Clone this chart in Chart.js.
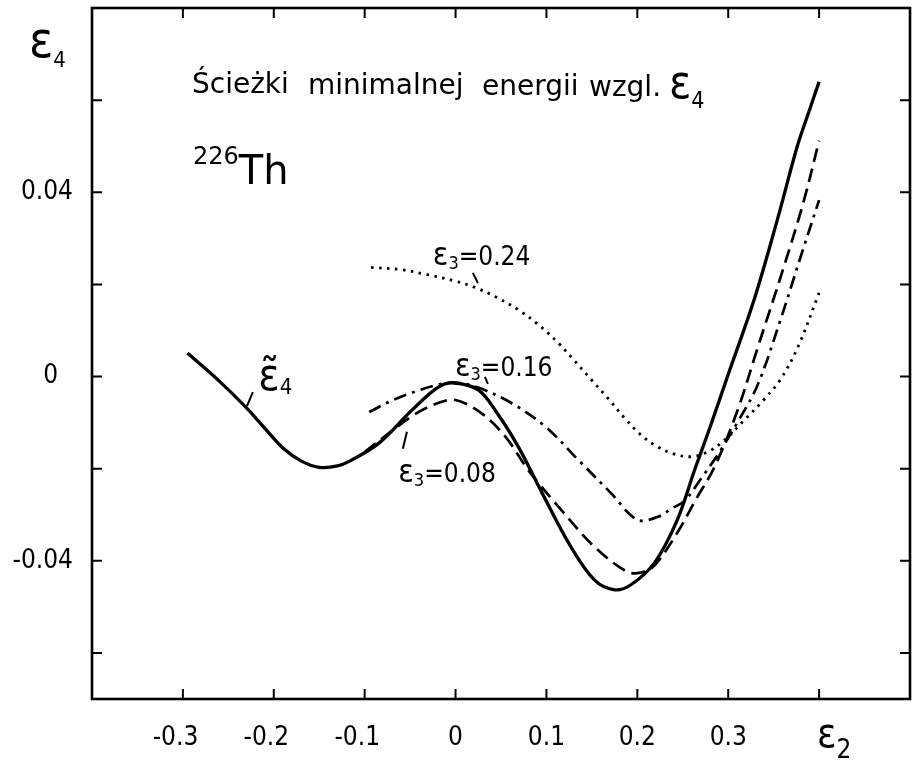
<!DOCTYPE html>
<html>
<head>
<meta charset="utf-8">
<script src="https://cdn.jsdelivr.net/npm/chart.js@4/dist/chart.umd.min.js"></script>
<style>
  html, body { margin: 0; padding: 0; background: #fff; }
</style>
</head>
<body>
<canvas id="myChart" width="912" height="760"></canvas>
<script>
// minimum energy paths in eps4 for 226Th, one curve per eps3 value
let solidE2 = [-0.295, -0.26, -0.23, -0.21, -0.19, -0.17, -0.15, -0.13, -0.114, -0.084, -0.048, -0.019, -0.002, 0.025, 0.047, 0.07, 0.095, 0.127, 0.153, 0.175, 0.193, 0.219, 0.244, 0.263, 0.28, 0.299, 0.329, 0.354, 0.376, 0.39, 0.40];
let solidE4 = [0.0051, -0.0010, -0.0068, -0.0112, -0.0155, -0.0183, -0.0197, -0.0194, -0.0181, -0.0144, -0.0073, -0.0023, -0.0014, -0.0029, -0.0083, -0.0156, -0.0252, -0.0370, -0.0442, -0.0463, -0.0452, -0.0404, -0.0311, -0.0203, -0.0110, -0.0001, 0.0170, 0.0340, 0.0500, 0.0582, 0.0640];

let e308E2 = [-0.10, -0.07, -0.045, -0.02, 0.0, 0.028, 0.055, 0.08, 0.116, 0.153, 0.189, 0.205, 0.219, 0.244, 0.265, 0.285, 0.31, 0.332, 0.361, 0.383, 0.40];
let e308E4 = [-0.0164, -0.0118, -0.0082, -0.0058, -0.0051, -0.0079, -0.0131, -0.0203, -0.0289, -0.0370, -0.0424, -0.0425, -0.0410, -0.0339, -0.0265, -0.0196, -0.0075, 0.0060, 0.0237, 0.0380, 0.0512];

let e316E2 = [-0.095, -0.07, -0.045, -0.02, 0.0, 0.025, 0.061, 0.099, 0.135, 0.171, 0.200, 0.222, 0.24, 0.252, 0.27, 0.29, 0.31, 0.332, 0.357, 0.38, 0.40];
let e316E4 = [-0.0077, -0.0052, -0.0033, -0.0018, -0.0013, -0.0024, -0.0057, -0.0109, -0.0181, -0.0253, -0.0311, -0.0305, -0.0284, -0.0270, -0.0222, -0.0165, -0.0100, -0.0020, 0.0120, 0.0262, 0.0383];

let e324E2 = [-0.093, -0.06, -0.033, 0.0, 0.022, 0.045, 0.069, 0.092, 0.113, 0.131, 0.149, 0.168, 0.186, 0.203, 0.22, 0.24, 0.26, 0.278, 0.296, 0.316, 0.338, 0.358, 0.378, 0.40];
let e324E4 = [0.0237, 0.0232, 0.0222, 0.0207, 0.0193, 0.0172, 0.0145, 0.0111, 0.0073, 0.0034, -0.0006, -0.0048, -0.0090, -0.0125, -0.0150, -0.0168, -0.0174, -0.0163, -0.0138, -0.0098, -0.0053, -0.0005, 0.0070, 0.0182];

let xTickLabels = ['-0.3', '-0.2', '-0.1', '0', '0.1', '0.2', '0.3'];
let yTickLabels = ['-0.04', '0', '0.04'];

const FONT = "'DejaVu Sans Condensed', 'DejaVu Sans', sans-serif";
const TITLE_FONT = "'DejaVu Sans', sans-serif";
const FIG_SPACE = '\u2007';

function pts(xs, ys) {
  return xs.map((v, i) => ({ x: v, y: ys[i] }));
}

// draws a run of [text, size, dy] pieces one after another
function run(ctx, pieces, px, py, family) {
  let cx = px;
  pieces.forEach(([s, size, dy]) => {
    ctx.font = size + 'px ' + (family || FONT);
    ctx.fillText(s, cx, py + (dy || 0));
    cx += ctx.measureText(s).width;
  });
}

function leader(ctx, x, y, a, b) {
  ctx.beginPath();
  ctx.moveTo(x.getPixelForValue(a[0]), y.getPixelForValue(a[1]));
  ctx.lineTo(x.getPixelForValue(b[0]), y.getPixelForValue(b[1]));
  ctx.stroke();
}

const frameAndNotes = {
  id: 'frameAndNotes',
  afterDraw(chart) {
    const { ctx, chartArea: a, scales: { x, y } } = chart;
    ctx.save();
    ctx.strokeStyle = '#000';
    ctx.fillStyle = '#000';
    ctx.textAlign = 'left';
    ctx.textBaseline = 'alphabetic';

    // box
    ctx.lineWidth = 2.6;
    ctx.strokeRect(a.left, a.top, a.right - a.left, a.bottom - a.top);

    // inward ticks on all four sides
    const tl = 10;
    ctx.lineWidth = 2;
    ctx.beginPath();
    x.ticks.forEach(t => {
      if (t.value <= x.min + 1e-9 || t.value >= x.max - 1e-9) return;
      const px = x.getPixelForValue(t.value);
      ctx.moveTo(px, a.bottom); ctx.lineTo(px, a.bottom - tl);
      ctx.moveTo(px, a.top); ctx.lineTo(px, a.top + tl);
    });
    y.ticks.forEach(t => {
      const k = t.value / 0.02;
      if (Math.abs(k - Math.round(k)) > 1e-6) return;
      if (t.value <= y.min + 1e-9 || t.value >= y.max - 1e-9) return;
      const py = y.getPixelForValue(t.value);
      ctx.moveTo(a.left, py); ctx.lineTo(a.left + tl, py);
      ctx.moveTo(a.right, py); ctx.lineTo(a.right - tl, py);
    });
    ctx.stroke();

    // axis titles
    run(ctx, [['ε', 50], ['4', 22, 10]], 29, 57);
    run(ctx, [['ε', 40], ['2', 26, 11]], 817, 747);

    // heading
    const L = a.left, T = a.top;
    ctx.font = '28px ' + TITLE_FONT;
    ctx.fillText('Ścieżki', L + 100, T + 85);
    ctx.fillText('minimalnej', L + 216, T + 86);
    ctx.fillText('energii', L + 390, T + 87);
    ctx.fillText('wzgl.', L + 497, T + 88);
    run(ctx, [['ε', 46], ['4', 23, 10]], L + 577, T + 90);
    run(ctx, [['226', 24, -20], ['Th', 40]], L + 101, T + 176, TITLE_FONT);

    // curve labels
    const p = (vx, vy) => [x.getPixelForValue(vx), y.getPixelForValue(vy)];
    let q = p(-0.217, -0.0029);
    run(ctx, [['ε\u0303', 44], ['4', 22, 4]], q[0], q[1]);
    q = p(-0.025, 0.0242);
    run(ctx, [['ε', 32], ['3', 18, 4], ['=0.24', 26]], q[0], q[1]);
    q = p(-0.0007, 0.0001);
    run(ctx, [['ε', 32], ['3', 18, 4], ['=0.16', 26]], q[0], q[1]);
    q = p(-0.063, -0.0229);
    run(ctx, [['ε', 32], ['3', 18, 4], ['=0.08', 26]], q[0], q[1]);

    ctx.lineWidth = 2;
    leader(ctx, x, y, [-0.223, -0.0034], [-0.2295, -0.0064]);
    leader(ctx, x, y, [0.019, 0.0225], [0.0246, 0.0203]);
    leader(ctx, x, y, [0.0323, -0.0001], [0.0356, -0.0016]);
    leader(ctx, x, y, [-0.0535, -0.0120], [-0.058, -0.0157]);
    ctx.restore();
  }
};

let ctx = document.getElementById('myChart').getContext('2d');

let myChart = new Chart(ctx, {
  type: 'line',
  data: {
    datasets: [
      { label: 'ε̃4', data: pts(solidE2, solidE4), borderWidth: 3.3 },
      { label: 'ε3=0.08', data: pts(e308E2, e308E4), borderWidth: 2.7, borderDash: [14, 7] },
      { label: 'ε3=0.16', data: pts(e316E2, e316E4), borderWidth: 2.7, borderDash: [13, 6, 3, 6] },
      { label: 'ε3=0.24', data: pts(e324E2, e324E4), borderWidth: 2.8, borderDash: [2.5, 5.5] }
    ].map(d => Object.assign(d, {
      borderColor: '#000',
      pointRadius: 0,
      fill: false,
      tension: 0.35
    }))
  },
  options: {
    responsive: false,
    animation: false,
    devicePixelRatio: 1,
    layout: { padding: { left: 0, right: 2, top: 8, bottom: 0 } },
    plugins: {
      legend: { display: false },
      tooltip: { enabled: false }
    },
    scales: {
      x: {
        type: 'linear',
        min: -0.4,
        max: 0.5,
        grid: { display: false, drawTicks: false },
        border: { display: false },
        ticks: {
          stepSize: 0.1,
          padding: 24,
          color: '#000',
          maxRotation: 0,
          autoSkip: false,
          font: { family: FONT, size: 26 },
          callback: (v) => {
            let r = Math.round(v * 10) / 10;
            let s = r === 0 ? '0' : r.toFixed(1);
            if (!xTickLabels.includes(s)) return '';
            // digits sit over the tick, the minus hangs to the left
            return r < 0 ? s + FIG_SPACE : s;
          }
        },
        afterFit: (s) => {
          s.height = 61;
          s.paddingLeft = 0;
          s.paddingRight = 0;
        }
      },
      y: {
        min: -0.07,
        max: 0.08,
        grid: { display: false, drawTicks: false },
        border: { display: false },
        ticks: {
          stepSize: 0.02,
          padding: 19,
          color: '#000',
          autoSkip: false,
          font: { family: FONT, size: 26 },
          callback: (v) => {
            let r = Math.round(v * 100) / 100;
            if (Math.abs(v - r) > 1e-9) return '';
            let s = r === 0 ? '0' : r.toFixed(2);
            if (!yTickLabels.includes(s)) return '';
            return s === '0' ? s + FIG_SPACE : s;
          }
        },
        afterFit: (s) => {
          s.width = 92;
          s.paddingTop = 0;
          s.paddingBottom = 0;
        }
      }
    }
  },
  plugins: [frameAndNotes]
});
</script>
</body>
</html>
